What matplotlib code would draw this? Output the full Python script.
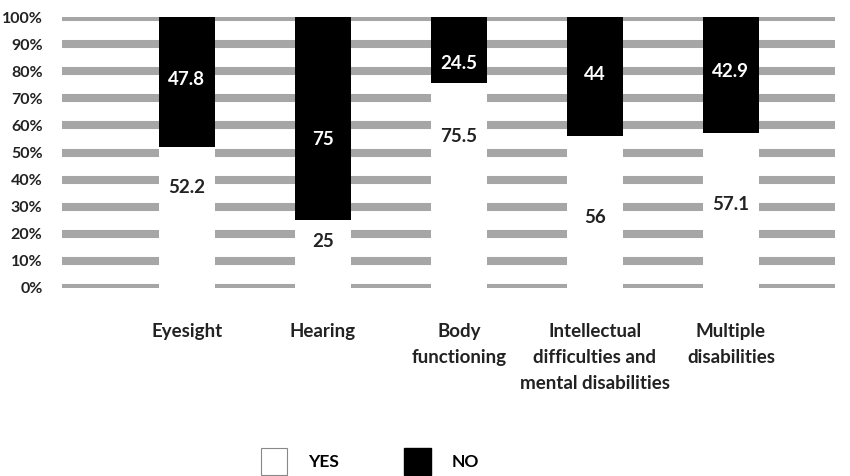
import numpy as np
import matplotlib.pyplot as plt
from matplotlib.patches import Patch

plt.rcParams['font.family'] = ['Lato', 'DejaVu Sans']
plt.rcParams['font.weight'] = 'bold'

categories = ['Eyesight', 'Hearing', 'Body\nfunctioning',
              'Intellectual\ndifficulties and\nmental disabilities',
              'Multiple\ndisabilities']
yes = [52.2, 25, 75.5, 56, 57.1]
no = [47.8, 75, 24.5, 44, 42.9]
yticks = [0, 10, 20, 30, 40, 50, 60, 70, 80, 90, 100]

# where the value labels sit (hand placed in the original)
yes_label_y = [37, 17, 56, 26, 31]
no_label_y = [77, 55, 83, 79, 80]

fig = plt.figure(figsize=(8.5, 4.76), dpi=100)
ax = fig.add_axes([0.073, 0.395, 0.909, 0.569])

x = np.arange(len(categories))
for t in yticks:
    ax.axhline(t, color='#a6a6a6', lw=5.8, zorder=1, solid_capstyle='butt')

w = 0.41
ax.bar(x, yes, w, color='white', zorder=2)
ax.bar(x, no, w, bottom=yes, color='black', zorder=2)

for i in range(len(x)):
    ax.text(x[i], yes_label_y[i], '%g' % yes[i], ha='center', va='center',
            fontsize=13.5, color='#222222', zorder=3)
    ax.text(x[i], no_label_y[i], '%g' % no[i], ha='center', va='center',
            fontsize=13.5, color='white', zorder=3)

ax.set_xlim(-0.917, 4.763)
ax.set_ylim(0, 100)
ax.set_yticks(yticks)
ax.set_yticklabels(['%d%%' % t for t in yticks], fontsize=11.5, color='#222222')
ax.set_xticks(x)
ax.set_xticklabels(categories, fontsize=13.5, color='#222222', linespacing=1.65,
                   va='top')
ax.tick_params(length=0)
ax.tick_params(axis='x', pad=25)
ax.tick_params(axis='y', pad=14)
for s in ax.spines.values():
    s.set_visible(False)

handles = [Patch(facecolor='white', edgecolor='#888888', lw=0.8),
           Patch(facecolor='black', edgecolor='black')]
fig.legend(handles, ['YES', 'NO'], loc='center', bbox_to_anchor=(0.435, 0.03),
           ncol=2, frameon=False, fontsize=12.5, handlelength=1.5,
           handleheight=2.0, handletextpad=1.2, columnspacing=3.8)

fig.savefig('out.png', dpi=100)
